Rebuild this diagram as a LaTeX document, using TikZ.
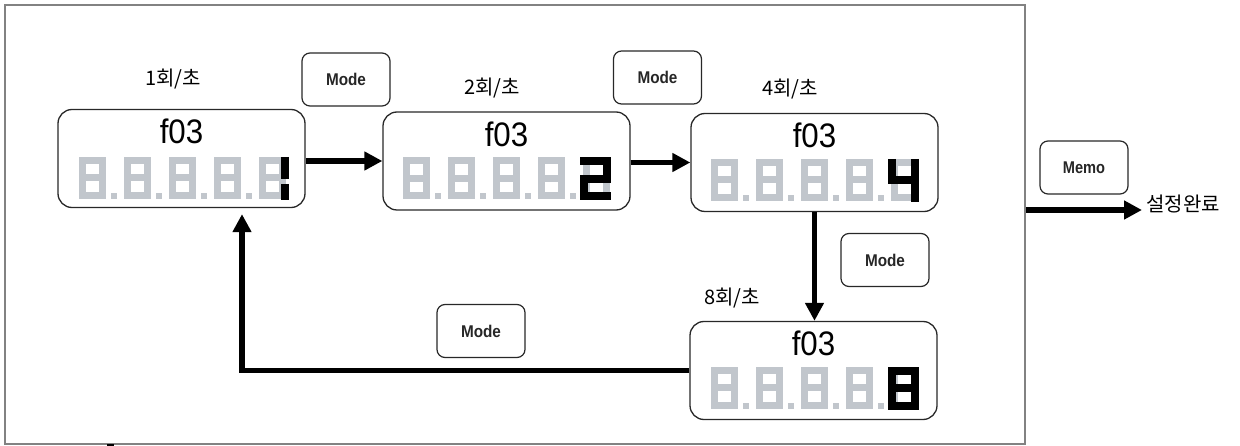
\documentclass[tikz,border=0pt]{standalone}
\usepackage{fontspec}
\setmainfont{Liberation Sans}
\newfontfamily\krfont{Noto Sans CJK KR}
\usetikzlibrary{arrows.meta}
\definecolor{lcdgray}{RGB}{193,198,204}
\definecolor{framegray}{RGB}{130,130,130}
\definecolor{edge}{RGB}{40,40,40}

% five grey seven-segment 8s with decimal points; origin = top-left of first digit
\newcommand\lcdrow{%
  \foreach \k in {0,...,4} {
    \begin{scope}[xshift=45*\k pt]
      \draw[lcdgray, line width=7pt] (3.5,3.5) rectangle (23.5,38.5);
      \draw[lcdgray, line width=7pt] (0,21) -- (27,21);
    \end{scope}
  }
  \foreach \k in {0,...,3} { \fill[lcdgray] (45*\k+32,36) rectangle (45*\k+38,42); }
}

\tikzset{
  lcdbox/.style={draw=edge, line width=1.3pt, rounded corners=14pt,
    minimum width=247pt, minimum height=98pt, inner sep=0pt},
  keybtn/.style={draw=edge, line width=1.2pt, rounded corners=8pt,
    minimum width=88pt, minimum height=53pt, inner sep=0pt,
    font=\bfseries\fontsize{17}{17}\selectfont, text=black!85},
  ratelbl/.style={font=\krfont\fontsize{20}{20}\selectfont, inner sep=0pt},
  code/.style={font=\fontsize{34}{34}\selectfont, inner sep=0pt},
  seg/.style={black, line width=8pt, line join=miter},
  arr/.style={line width=5.5pt, -{Triangle[length=18pt,width=18pt]}},
}

\begin{document}
\begin{tikzpicture}[x=1pt, y=-1pt]
  \useasboundingbox (0,0) rectangle (1240,446);

  % outer frame
  \node[draw=framegray, line width=2pt, minimum width=1020pt, minimum height=439pt,
        inner sep=0pt] (frame) at (515,224.5) {};
  \fill[black] (107,444) rectangle (114,446);

  % display boxes
  \node[lcdbox] (b1) at (181.5,158.5) {};
  \node[lcdbox] (b2) at (506.5,161) {};
  \node[lcdbox] (b3) at (814.5,162.5) {};
  \node[lcdbox] (b4) at (813.5,370.5) {};

  \foreach \b in {b1,b2,b3,b4} {
    \node[code] (\b t) at ([yshift=-23pt]\b.north) {\scalebox{0.92}[1]{f03}};
  }

  % 1 per second
  \begin{scope}[shift={(b1.north west)}, xshift=22pt, yshift=-48pt]
    \lcdrow
    \draw[seg] (206,0) -- (206,22);
    \draw[seg] (206,27) -- (206,43);
  \end{scope}
  % 2 per second
  \begin{scope}[shift={(b2.north west)}, xshift=21pt, yshift=-46pt]
    \lcdrow
    \draw[seg] (177,4) -- (204,4) -- (204,21.5) -- (181,21.5) -- (181,39) -- (208,39);
  \end{scope}
  % 4 per second
  \begin{scope}[shift={(b3.north west)}, xshift=21pt, yshift=-46pt]
    \lcdrow
    \draw[seg] (181,0) -- (181,21.5) -- (204,21.5);
    \draw[seg] (204,0) -- (204,43);
  \end{scope}
  % 8 per second
  \begin{scope}[shift={(b4.north west)}, xshift=22pt, yshift=-46pt]
    \lcdrow
    \draw[seg] (181,4) rectangle (204,39);
    \draw[seg] (177,21.5) -- (208,21.5);
  \end{scope}

  % rate labels
  \node[ratelbl] (l1) at (173,79) {1회/초};
  \node[ratelbl] (l2) at (492,88) {2회/초};
  \node[ratelbl] (l3) at (790,89) {4회/초};
  \node[ratelbl] (l4) at (732,298) {8회/초};

  % keys
  \node[keybtn] (k1) at (346,79.5) {\scalebox{0.9}[1]{Mode}};
  \node[keybtn] (k2) at (657.5,77.5) {\scalebox{0.9}[1]{Mode}};
  \node[keybtn] (k3) at (885,260) {\scalebox{0.9}[1]{Mode}};
  \node[keybtn] (k4) at (481,331) {\scalebox{0.9}[1]{Mode}};
  \node[keybtn] (km) at (1084,167.5) {\scalebox{0.86}[1]{Memo}};

  % result
  \node[ratelbl, anchor=west] (done) at (1146,204) {설정완료};
  \coordinate (outy) at (0,210);

  % transitions
  \draw[arr] (b1.east |- b2.west) -- (b2.west);
  \draw[arr] (b2.east |- b3.west) -- (b3.west);
  \draw[arr] (b3.south) -- (b3.south |- b4.north);
  \draw[arr, shorten >=6pt] (b4.west) -| ([xshift=60.5pt]b1.south);
  \draw[arr] (frame.east |- outy) -- ([xshift=-4pt]done.west |- outy);
\end{tikzpicture}
\end{document}
